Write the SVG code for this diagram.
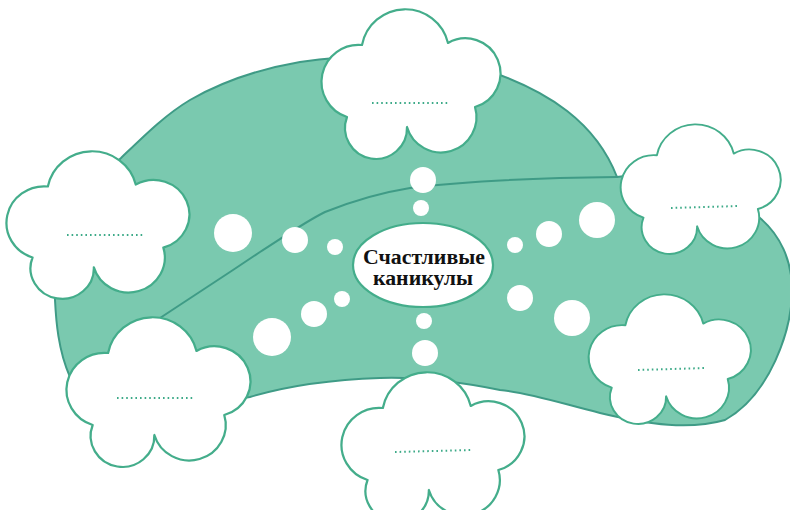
<svg xmlns="http://www.w3.org/2000/svg" width="790" height="510" viewBox="0 0 790 510">
<style>
.blob{fill:#7AC9AF;stroke:#3F9B86;stroke-width:2}
.vein{fill:none;stroke:#3F9B86;stroke-width:2;stroke-linecap:round}
.bub{fill:#fff}
.cloud{fill:#fff;stroke:#44AD8B;stroke-width:2.2;vector-effect:non-scaling-stroke;stroke-linejoin:round}
.dots{fill:none;stroke:#3DAA88;stroke-width:2;stroke-dasharray:1.6 3}
.title{font-family:"Liberation Serif","Times New Roman",serif;font-weight:bold;font-size:20px;fill:#111;text-anchor:middle}
</style>
<defs>
<path id="cl" d="M39,35 A44,44 0 0 1 125,33 A35,35 0 1 1 152,97 A35,35 0 1 1 84,117 A31,31 0 1 1 24,107 A37,37 0 0 1 39,35 Z"/>
</defs>
<g id="background">
<path class="blob" d="M55,300 C52,240 80,195 121,158 C145,135 165,115 190,100 C225,80 265,68 300,62 C380,50 450,58 500,75 C545,92 595,120 617,177 C660,170 730,195 760,218 C780,235 792,260 792,290 C792,330 770,395 725,420 C690,430 650,425 600,413 C560,403 530,393 500,390 C450,380 410,377 380,378 C320,380 280,388 250,397 C180,410 90,400 70,377 C58,350 56,320 55,300 Z"/>
<path class="vein" d="M160,318 C190,298 215,282 233,270 L260,252 C285,236 305,222 325,212 C355,200 385,192 410,188 C450,183 520,178 617,177"/>
</g>
<g id="connectors">
<circle class="bub" cx="423" cy="180" r="13"/>
<circle class="bub" cx="421" cy="208" r="8"/>
<circle class="bub" cx="233" cy="233" r="19"/>
<circle class="bub" cx="295" cy="240" r="13"/>
<circle class="bub" cx="335" cy="247" r="8"/>
<circle class="bub" cx="342" cy="299" r="8"/>
<circle class="bub" cx="314" cy="314" r="13"/>
<circle class="bub" cx="272" cy="337" r="19"/>
<circle class="bub" cx="424" cy="321" r="8"/>
<circle class="bub" cx="425" cy="353" r="13"/>
<circle class="bub" cx="515" cy="245" r="8"/>
<circle class="bub" cx="549" cy="234" r="13"/>
<circle class="bub" cx="597" cy="220" r="18"/>
<circle class="bub" cx="520" cy="298" r="13"/>
<circle class="bub" cx="572" cy="318" r="18"/>
</g>
<g id="center">
<ellipse cx="423" cy="265" rx="70" ry="42" fill="#fff" stroke="#44AD8B" stroke-width="2.2"/>
<text class="title" x="424" y="264" textLength="122" lengthAdjust="spacingAndGlyphs">Счастливые</text>
<text class="title" x="423" y="285" textLength="100" lengthAdjust="spacingAndGlyphs">каникулы</text>
</g>
<g id="cloud-top">
<use href="#cl" class="cloud" transform="translate(323,10)"/>
<line class="dots" x1="372" y1="103" x2="449" y2="103"/>
</g>
<g id="cloud-left">
<use href="#cl" class="cloud" transform="translate(8,152) scale(1.022,0.986)"/>
<line class="dots" x1="67" y1="235" x2="143" y2="235"/>
</g>
<g id="cloud-bottom-left">
<use href="#cl" class="cloud" transform="translate(68,318) scale(1.028,1)"/>
<line class="dots" x1="117" y1="398" x2="193" y2="398"/>
</g>
<g id="cloud-right-top">
<use href="#cl" class="cloud" transform="translate(622,125) scale(0.894,0.866)"/>
<line class="dots" x1="671" y1="208" x2="739" y2="206"/>
</g>
<g id="cloud-right-bottom">
<use href="#cl" class="cloud" transform="translate(590,295) scale(0.906,0.866)"/>
<line class="dots" x1="638" y1="370" x2="706" y2="368"/>
</g>
<g id="cloud-bottom">
<use href="#cl" class="cloud" transform="translate(343,373) scale(1.022,1)"/>
<line class="dots" x1="395" y1="452" x2="472" y2="450"/>
</g>
</svg>
